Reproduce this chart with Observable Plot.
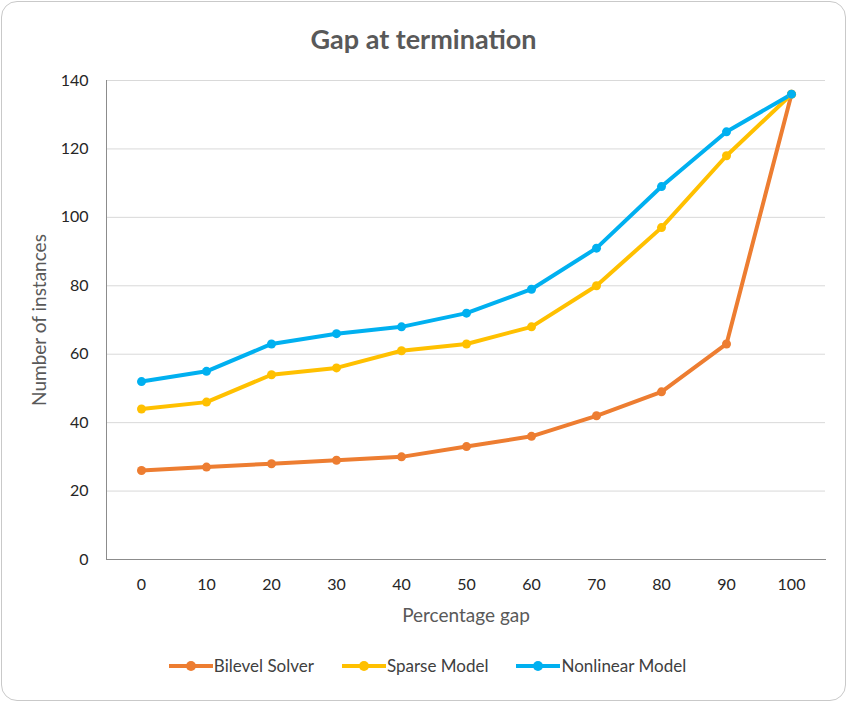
<!DOCTYPE html>
<html>
<head>
<meta charset="utf-8">
<script src="https://cdn.jsdelivr.net/npm/d3@7"></script>
<script src="https://cdn.jsdelivr.net/npm/@observablehq/plot@0.6"></script>
<style>
  html, body { margin: 0; padding: 0; background: #fff; }
  #card {
    position: absolute; left: 1px; top: 1px;
    width: 843px; height: 698px;
    border: 1px solid #c9c9c9; border-radius: 16px;
    background: #fff; font-family: Lato, "Open Sans", sans-serif;
    overflow: hidden;
  }
  #title {
    height: 59px; line-height: 74px; text-align: center;
    font-size: 27px; font-weight: bold; color: #595959;
  }
  #legend {
    display: flex; justify-content: center; gap: 28px;
    margin-top: 24px; font-size: 17px; color: #404040; margin-left: 8px;
  }
  .item { display: flex; align-items: center; }
  .sw { position: relative; width: 44px; height: 4px; margin-right: 1px; }
  .sw i { position: absolute; left: 17px; top: -3px; width: 10px; height: 10px; border-radius: 50%; }
</style>
</head>
<body>
<div id="card">
  <div id="title">Gap at termination</div>
  <div id="chart"></div>
  <div id="legend"></div>
</div>
<script>
const categories = ["0","10","20","30","40","50","60","70","80","90","100"];
const seriesNames = ["Bilevel Solver", "Sparse Model", "Nonlinear Model"];
const seriesColors = ["#ED7D31", "#FFC000", "#00B0F0"];
const bilevel   = [26, 27, 28, 29, 30, 33, 36, 42, 49, 63, 136];
const sparse    = [44, 46, 54, 56, 61, 63, 68, 80, 97, 118, 136];
const nonlinear = [52, 55, 63, 66, 68, 72, 79, 91, 109, 125, 136];
const yTicks = [0, 20, 40, 60, 80, 100, 120, 140];

const allSeries = [bilevel, sparse, nonlinear];
const data = [];
allSeries.forEach((vals, s) => {
  vals.forEach((v, i) => data.push({x: categories[i], y: v, series: seriesNames[s]}));
});

const chart = Plot.plot({
  width: 843,
  height: 570,
  marginLeft: 104,
  marginRight: 20,
  marginTop: 19,
  marginBottom: 72,
  style: { fontFamily: "Lato, 'Open Sans', sans-serif", fontSize: "16px", color: "#262626", background: "#fff" },
  x: { type: "point", domain: categories, padding: 0.5 },
  y: { domain: [0, 140] },
  color: { domain: seriesNames, range: seriesColors },
  marks: [
    Plot.gridY(yTicks.filter(d => d > 0), { stroke: "#d9d9d9", strokeOpacity: 1, strokeWidth: 1 }),
    Plot.axisY({ ticks: yTicks, tickSize: 0, tickPadding: 18, label: "Number of instances", labelAnchor: "center", labelArrow: "none", labelOffset: 74, fill: "#262626" }),
    Plot.axisX({ tickSize: 0, tickPadding: 19, label: "Percentage gap", labelAnchor: "center", labelArrow: "none", labelOffset: 62 }),
    Plot.frame({ anchor: "left", stroke: "#8c8c8c" }),
    Plot.frame({ anchor: "bottom", stroke: "#8c8c8c" }),
    Plot.line(data, { x: "x", y: "y", z: "series", stroke: "series", strokeWidth: 4 }),
    Plot.dot(data, { x: "x", y: "y", fill: "series", r: 4.5 })
  ]
});
document.getElementById("chart").appendChild(chart);
d3.select(chart).selectAll("[aria-label='y-axis label'] text, [aria-label='x-axis label'] text")
  .attr("fill", "#595959").style("font-size", "19px");

const legend = document.getElementById("legend");
seriesNames.forEach((n, i) => {
  const it = document.createElement("div");
  it.className = "item";
  it.innerHTML = `<span class="sw" style="background:${seriesColors[i]}"><i style="background:${seriesColors[i]}"></i></span><span>${n}</span>`;
  legend.appendChild(it);
});
</script>
</body>
</html>
